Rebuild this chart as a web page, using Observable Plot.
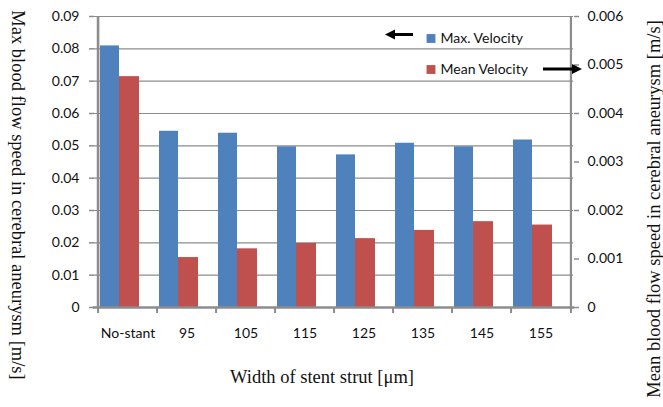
<!DOCTYPE html>
<html>
<head>
<meta charset="utf-8">
<script src="https://cdn.jsdelivr.net/npm/d3@7"></script>
<script src="https://cdn.jsdelivr.net/npm/@observablehq/plot@0.6"></script>
<style>
  html, body { margin: 0; padding: 0; background: #fff; }
  #chart svg { display: block; }
</style>
</head>
<body>
<div id="chart"></div>
<script>
// Stent strut width categories
const categories = ["No-stant", "95", "105", "115", "125", "135", "145", "155"];
// Maximum blood flow speed in the aneurysm [m/s] (left axis)
const maxVelocity = [0.0809, 0.0545, 0.0539, 0.0497, 0.0472, 0.0508, 0.0497, 0.0518];
// Mean blood flow speed in the aneurysm [m/s] (right axis)
const meanVelocity = [0.00476, 0.00103, 0.00121, 0.00132, 0.00142, 0.00159, 0.00177, 0.00170];
// Axis tick values
const leftTicks = [0, 0.01, 0.02, 0.03, 0.04, 0.05, 0.06, 0.07, 0.08, 0.09];
const rightTicks = [0, 0.001, 0.002, 0.003, 0.004, 0.005, 0.006];
const seriesNames = ["Max. Velocity", "Mean Velocity"];
const seriesColors = ["#4F81BD", "#C0504D"];

// The right axis shares the frame: mean values are mapped onto the left scale
const leftMax = leftTicks[leftTicks.length - 1];
const rightMax = rightTicks[rightTicks.length - 1];
const ratio = leftMax / rightMax;

const rows = categories.map((c, i) => ({category: c, max: maxVelocity[i], mean: meanVelocity[i]}));

const W = 663, H = 407;
const mL = 94, mR = 90, mT = 16, mB = 100;
const step = (W - mL - mR) / categories.length;
const axisGray = "#8c8c8c";
const sans = "Lato, 'Liberation Sans', sans-serif";
const serif = "'Liberation Serif', 'DejaVu Serif', serif";
const titleSize = 18.5;
const fmtLeft = d => d === 0 ? "0" : d.toFixed(2);
const fmtRight = d => { const v = d / ratio; return Math.abs(v) < 1e-9 ? "0" : v.toFixed(3); };

const chart = Plot.plot({
  width: W,
  height: H,
  marginLeft: mL,
  marginRight: mR,
  marginTop: mT,
  marginBottom: mB,
  style: {fontFamily: sans, background: "white"},
  x: {type: "band", domain: categories, padding: 0, axis: null},
  y: {domain: [0, leftMax], axis: null},
  marks: [
    // horizontal gridlines
    Plot.ruleY(leftTicks.slice(1), {stroke: axisGray, strokeWidth: 1.2}),
    // bars
    Plot.barY(rows, {x: "category", y: "max", fill: seriesColors[0], insetLeft: 2, insetRight: 38}),
    Plot.barY(rows, {x: "category", y: d => d.mean * ratio, fill: seriesColors[1], insetLeft: 21, insetRight: 18}),
    // left and right axis lines
    Plot.ruleX([categories[0]], {x: d => d, dx: -step / 2, stroke: axisGray, strokeWidth: 2.6}),
    Plot.ruleX([categories[categories.length - 1]], {x: d => d, dx: step / 2, stroke: axisGray, strokeWidth: 2.2}),
    // baseline
    Plot.ruleY([0], {stroke: axisGray, strokeWidth: 2.5, insetLeft: -1.3, insetRight: -1.1}),
    // category boundary tick marks
    Plot.ruleX(categories, {x: d => d, y1: 0, y2: 0, dx: -step / 2, insetBottom: -6, stroke: axisGray, strokeWidth: 2}),
    Plot.ruleX([categories[categories.length - 1]], {x: d => d, y1: 0, y2: 0, dx: step / 2, insetBottom: -6, stroke: axisGray, strokeWidth: 2}),
    // y axes
    Plot.axisY(leftTicks, {anchor: "left", tickSize: 5, tickPadding: 10, tickFormat: fmtLeft, stroke: axisGray, strokeWidth: 1.5, fill: "#111", fontSize: 14, fontFamily: sans, label: null}),
    Plot.axisY(rightTicks.map(d => d * ratio), {anchor: "right", tickSize: 5, tickPadding: 9, tickFormat: fmtRight, stroke: axisGray, strokeWidth: 1.5, fill: "#111", fontSize: 14, fontFamily: sans, label: null}),
    // category labels
    Plot.axisX({tickSize: 0, tickPadding: 21, fill: "#111", fontSize: 14, fontFamily: sans, label: null}),
    // axis titles
    Plot.text(["Max blood flow speed in cerebral aneurysm [m/s]"], {frameAnchor: "left", dx: -77, dy: 33, rotate: 90, textAnchor: "middle", lineAnchor: "middle", fontFamily: serif, fontSize: titleSize, fill: "#111"}),
    Plot.text(["Mean blood flow speed in cerebral aneurysm [m/s]"], {frameAnchor: "right", dx: 81, dy: 47, rotate: -90, textAnchor: "middle", lineAnchor: "middle", fontFamily: serif, fontSize: titleSize, fill: "#111"}),
    Plot.text(["Width of stent strut [μm]"], {frameAnchor: "bottom", dx: -12, dy: 70, textAnchor: "middle", lineAnchor: "middle", fontFamily: serif, fontSize: titleSize, fill: "#111"}),
    // legend
    Plot.dot([0], {frameAnchor: "top-right", dx: -142.5, dy: 22, symbol: "square", r: 5, fill: seriesColors[0]}),
    Plot.dot([1], {frameAnchor: "top-right", dx: -142.5, dy: 53, symbol: "square", r: 5, fill: seriesColors[1]}),
    Plot.text([seriesNames[0]], {frameAnchor: "top-right", dx: -133, dy: 22, textAnchor: "start", lineAnchor: "middle", fontSize: 14, fontFamily: sans, fill: "#111"}),
    Plot.text([seriesNames[1]], {frameAnchor: "top-right", dx: -133, dy: 53, textAnchor: "start", lineAnchor: "middle", fontSize: 14, fontFamily: sans, fill: "#111"})
  ]
});

// Arrows pointing each series to its axis
const svg = d3.select(chart);
const arrowY1 = mT + 18.5, arrowY2 = mT + 53;
const drawArrow = (xTail, xTip, y) => {
  const dir = Math.sign(xTip - xTail);
  svg.append("line")
    .attr("x1", xTail).attr("y1", y)
    .attr("x2", xTip - dir * 8).attr("y2", y)
    .attr("stroke", "black").attr("stroke-width", 3);
  svg.append("path")
    .attr("d", `M${xTip},${y} L${xTip - dir * 10},${y - 5} L${xTip - dir * 10},${y + 5} Z`)
    .attr("fill", "black");
};
drawArrow(413, 385, arrowY1);
drawArrow(543, 582, arrowY2);

document.getElementById("chart").append(chart);
</script>
</body>
</html>
